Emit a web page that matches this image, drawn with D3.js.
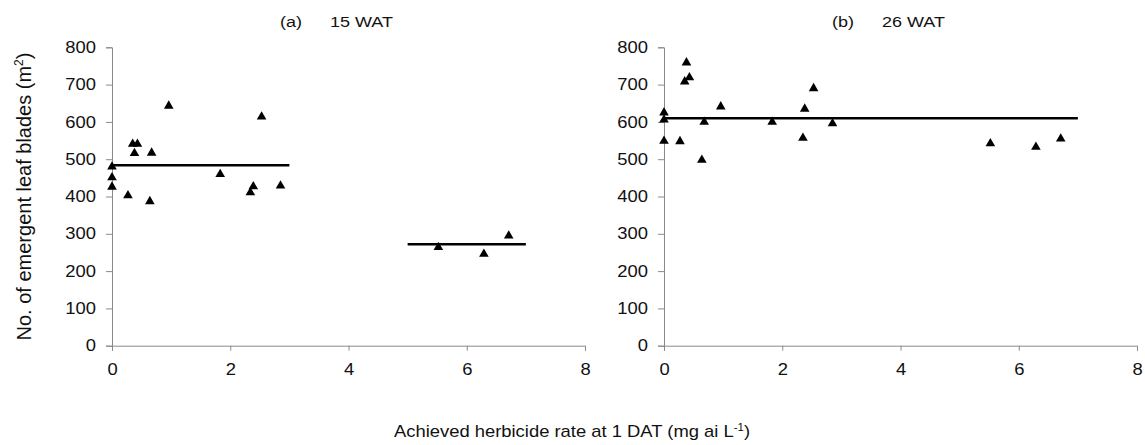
<!DOCTYPE html>
<html lang="en">
<head>
    <meta charset="UTF-8">
    <title>Emergent leaf blades vs achieved herbicide rate</title>
    <script src="https://d3js.org/d3.v7.min.js"></script>
    <style>
        body { margin: 0; background: #fff; }
        text { font-family: "Liberation Sans", Arial, sans-serif; fill: #111; }
    </style>
</head>
<body>
    <div id="plot"></div>
    <script>
        const width = 1145;
        const height = 445;

        // panel (a) 15 WAT
        const rateA = [0, 0, 0, 0.27, 0.35, 0.43, 0.38, 0.67, 0.64, 0.96, 1.83, 2.39, 2.34, 2.53, 2.85, 5.52, 6.29, 6.71];
        const bladesA = [482, 453, 428, 405, 543, 543, 518, 519, 389, 645, 462, 429, 413, 616, 431, 266, 248, 297];
        const fitA = [
            { x0: 0, x1: 3, y: 484 },
            { x0: 5, x1: 7, y: 272 }
        ];

        // panel (b) 26 WAT
        const rateB = [0, 0, 0, 0.27, 0.35, 0.38, 0.43, 0.64, 0.68, 0.96, 1.83, 2.35, 2.38, 2.53, 2.85, 5.52, 6.29, 6.71];
        const bladesB = [627, 608, 551, 550, 710, 761, 721, 500, 602, 643, 602, 559, 637, 692, 598, 544, 535, 557];
        const fitB = [
            { x0: 0, x1: 7, y: 610 }
        ];

        const xTicks = [0, 2, 4, 6, 8];
        const yTicks = [0, 100, 200, 300, 400, 500, 600, 700, 800];

        const panels = [
            { tag: "(a)", title: "15 WAT", left: 112, right: 585, xs: rateA, ys: bladesA, fit: fitA },
            { tag: "(b)", title: "26 WAT", left: 664, right: 1137, xs: rateB, ys: bladesB, fit: fitB }
        ];
        const plotTop = 47.3, plotBottom = 345.7;
        const stretch = 1.15; // the source type is a little wider than Arial

        const svg = d3.select("#plot")
            .append("svg")
            .attr("width", width)
            .attr("height", height);

        panels.forEach(p => {
            const x = d3.scaleLinear().domain([0, 8]).range([p.left, p.right]);
            const y = d3.scaleLinear().domain([0, 800]).range([plotBottom, plotTop]);

            const gx = svg.append("g")
                .attr("transform", `translate(0,${plotBottom})`)
                .call(d3.axisBottom(x).tickValues(xTicks).tickSize(5).tickPadding(13));
            const gy = svg.append("g")
                .attr("transform", `translate(${p.left},0)`)
                .call(d3.axisLeft(y).tickValues(yTicks).tickSize(6).tickPadding(10));

            [gx, gy].forEach(g => {
                g.select(".domain").attr("stroke", "#8a8a8a");
                g.selectAll(".tick line").attr("stroke", "#8a8a8a");
                g.selectAll(".tick text")
                    .attr("font-family", "Liberation Sans, Arial, sans-serif")
                    .attr("font-size", "16px")
                    .attr("fill", "#111")
                    .attr("x", function () { return (+d3.select(this).attr("x") || 0) / stretch; })
                    .attr("transform", `scale(${stretch},1)`);
            });

            // fitted means
            svg.selectAll(null)
                .data(p.fit)
                .enter()
                .append("line")
                .attr("x1", d => x(d.x0))
                .attr("x2", d => x(d.x1))
                .attr("y1", d => y(d.y))
                .attr("y2", d => y(d.y))
                .attr("stroke", "#000")
                .attr("stroke-width", 2.5);

            const pts = p.xs.map((v, i) => ({ x: v, y: p.ys[i] }));
            svg.selectAll(null)
                .data(pts)
                .enter()
                .append("path")
                .attr("d", d3.symbol().type(d3.symbolTriangle).size(40))
                .attr("transform", d => `translate(${x(d.x)},${y(d.y) + 0.8})`)
                .attr("fill", "#000");

            // panel title
            svg.append("text")
                .attr("transform", `translate(${p.left + 168},27) scale(1.2,1)`)
                .attr("font-size", "15px")
                .text(p.tag);
            svg.append("text")
                .attr("transform", `translate(${p.left + 218},27) scale(1.2,1)`)
                .attr("font-size", "15px")
                .text(p.title);
        });

        // y axis label
        const yl = svg.append("text")
            .attr("transform", `translate(31,${(plotTop + plotBottom) / 2}) rotate(-90)`)
            .attr("text-anchor", "middle")
            .attr("font-size", "20px");
        yl.append("tspan").text("No. of emergent leaf blades (m");
        yl.append("tspan").attr("font-size", "12px").attr("dy", -8).text("2");
        yl.append("tspan").attr("dy", 8).text(")");

        // x axis label
        const xl = svg.append("text")
            .attr("transform", `translate(572,437) scale(${stretch},1)`)
            .attr("text-anchor", "middle")
            .attr("font-size", "16px");
        xl.append("tspan").text("Achieved herbicide rate at 1 DAT (mg ai L");
        xl.append("tspan").attr("font-size", "10px").attr("dy", -6).text("-1");
        xl.append("tspan").attr("dy", 6).text(")");
    </script>
</body>
</html>
